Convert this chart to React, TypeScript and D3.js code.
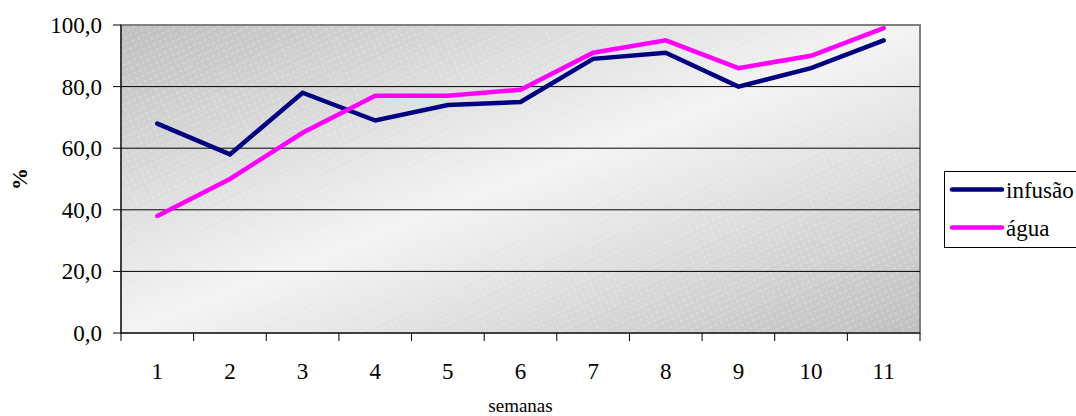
import React from "react";
import * as d3 from "d3";

const weeks = ["1", "2", "3", "4", "5", "6", "7", "8", "9", "10", "11"];
const infusao = [68, 58, 78, 69, 74, 75, 89, 91, 80, 86, 95];
const agua = [38, 50, 65, 77, 77, 79, 91, 95, 86, 90, 99];
const yTicks = [0, 20, 40, 60, 80, 100];
const seriesNames = ["infusão", "água"];
const seriesColors = ["#000080", "#ff00ff"];

const W = 1076;
const H = 416;
const left = 121;
const right = 920;
const top = 25;
const bottom = 333;
const FONT = '"Liberation Serif", "Times New Roman", Times, "DejaVu Serif", serif';
const ts = { fontFamily: FONT };

export default function App() {
  const x = d3.scaleBand<string>().domain(weeks).range([left, right]).padding(0);
  const y = d3.scaleLinear().domain([0, 100]).range([bottom, top]);
  const cx = (w: string) => (x(w) as number) + x.bandwidth() / 2;
  const line = d3
    .line<number>()
    .x((_, i) => cx(weeks[i]))
    .y((d) => y(d));
  const series = [infusao, agua];
  const fmt = (v: number) => v.toFixed(1).replace(".", ",");
  const boundaries = [...weeks.map((w) => x(w) as number), right];

  return (
    <svg
      width={W}
      height={H}
      style={{ position: "absolute", left: 0, top: 0, background: "#fff", fontFamily: FONT }}
    >
      <defs>
        <linearGradient id="bg" x1="0" y1="0" x2="1" y2="1">
          <stop offset="0" stopColor="#bfbfbf" />
          <stop offset="0.5" stopColor="#f3f3f3" />
          <stop offset="1" stopColor="#bfbfbf" />
        </linearGradient>
        <pattern
          id="hatch"
          width="6"
          height="6"
          patternUnits="userSpaceOnUse"
          patternTransform="rotate(-25)"
        >
          <line x1="0" y1="3" x2="3" y2="3" stroke="#ffffff" strokeOpacity="0.35" strokeWidth="1" />
        </pattern>
      </defs>
      <rect x={left} y={top} width={right - left} height={bottom - top} fill="url(#bg)" />
      <rect x={left} y={top} width={right - left} height={bottom - top} fill="url(#hatch)" />
      <rect
        x={left}
        y={top}
        width={right - left}
        height={bottom - top}
        fill="none"
        stroke="#808080"
        strokeWidth={2}
      />
      {yTicks
        .filter((t) => t > 0 && t < 100)
        .map((t) => (
          <line key={"g" + t} x1={left} x2={right} y1={y(t)} y2={y(t)} stroke="#000" strokeWidth={1} />
        ))}
      <line x1={left} x2={left} y1={top} y2={bottom} stroke="#000" strokeWidth={1} />
      <line x1={left} x2={right} y1={bottom} y2={bottom} stroke="#000" strokeWidth={1} />
      {yTicks.map((t) => (
        <g key={"yt" + t}>
          <line x1={left - 8} x2={left} y1={y(t)} y2={y(t)} stroke="#000" strokeWidth={1} />
          <text x={102} y={y(t)} dy="0.35em" textAnchor="end" fontSize={23} fill="#000" style={ts}>
            {fmt(t)}
          </text>
        </g>
      ))}
      {boundaries.map((b, i) => (
        <line key={"xt" + i} x1={b} x2={b} y1={bottom} y2={bottom + 8} stroke="#000" strokeWidth={1} />
      ))}
      {weeks.map((w) => (
        <text key={"xl" + w} x={cx(w)} y={379} textAnchor="middle" fontSize={23} fill="#000" style={ts}>
          {w}
        </text>
      ))}
      {series.map((s, i) => (
        <path
          key={"s" + i}
          d={line(s) as string}
          fill="none"
          stroke={seriesColors[i]}
          strokeWidth={4.5}
          strokeLinejoin="miter"
          strokeLinecap="round"
        />
      ))}
      <text
        transform={`translate(27,${(top + bottom) / 2}) rotate(-90)`}
        textAnchor="middle"
        fontSize={22}
        fontWeight="bold"
        fill="#000"
        style={ts}
      >
        %
      </text>
      <text x={(left + right) / 2} y={412} textAnchor="middle" fontSize={19} fill="#000" style={ts}>
        semanas
      </text>
      <rect x={944.5} y={171.5} width={140} height={76} fill="#fff" stroke="#000" strokeWidth={1} />
      {seriesNames.map((n, i) => {
        const ly = 189.5 + i * 38;
        return (
          <g key={"lg" + i}>
            <line x1={952} x2={1002} y1={ly} y2={ly} stroke={seriesColors[i]} strokeWidth={4.5} strokeLinecap="round" />
            <text x={1006} y={ly} dy="0.35em" fontSize={23} fill="#000" style={ts}>
              {n}
            </text>
          </g>
        );
      })}
    </svg>
  );
}
